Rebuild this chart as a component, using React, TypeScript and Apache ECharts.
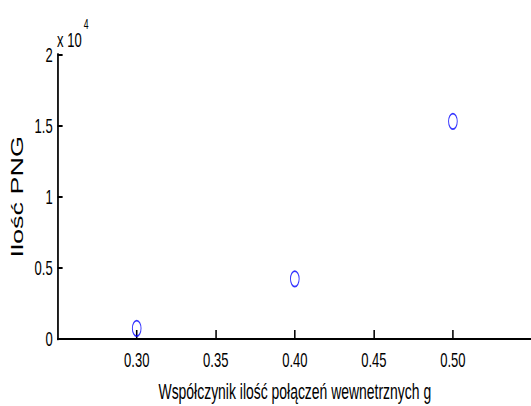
import React, { useEffect, useRef } from "react";
import * as echarts from "echarts";

const gValues = [0.3, 0.4, 0.5];
const pngCounts = [750, 4230, 15300];
const xTickValues = [0.3, 0.35, 0.4, 0.45, 0.5];
const yTickValues = [0, 5000, 10000, 15000, 20000];
const xAxisTitle = "Współczynik ilość połączeń wewnetrznych g";
const yAxisTitle = "Ilość PNG";

const SX = 0.62;
const W = 880;
const H = 406;
const FONT = '"Liberation Sans", Arial, sans-serif';
const RING = "path://M0,-1A1,1,0,1,1,0,1A1,1,0,1,1,0,-1Z";

export default function App() {
  const ref = useRef<HTMLDivElement>(null);
  useEffect(() => {
    if (!ref.current) return;
    const chart = echarts.init(ref.current, undefined, { renderer: "svg" });
    const data = gValues.map((g, i) => [g, pngCounts[i]]);
    chart.setOption({
      animation: false,
      backgroundColor: "#fff",
      grid: {
        left: 93,
        right: W - 858,
        top: 54.5,
        bottom: H - 339,
        containLabel: false,
        outerBoundsMode: "none",
      },
      graphic: [
        {
          type: "text",
          style: { text: "x 10", x: 92, y: 50, font: `21px ${FONT}`, fill: "#000", verticalAlign: "bottom" },
        },
        {
          type: "text",
          style: { text: "4", x: 135, y: 31, font: `14px ${FONT}`, fill: "#000", verticalAlign: "bottom" },
        },
      ],
      xAxis: {
        type: "value",
        min: 0.25,
        max: 0.55,
        interval: 0.05,
        name: xAxisTitle,
        nameLocation: "middle",
        nameGap: 41,
        nameTextStyle: { fontFamily: FONT, fontSize: 22.5, color: "#000" },
        axisLine: { show: true, onZero: false, lineStyle: { color: "#000", width: 2 } },
        axisTick: { show: true, inside: true, length: 9, customValues: xTickValues, lineStyle: { color: "#000", width: 2.5 } },
        axisLabel: {
          customValues: xTickValues,
          formatter: (v: number) => v.toFixed(2),
          fontFamily: FONT,
          fontSize: 21,
          color: "#000",
          margin: 10,
        },
        splitLine: { show: false },
      },
      yAxis: {
        type: "value",
        min: 0,
        max: 20000,
        interval: 5000,
        name: yAxisTitle,
        nameLocation: "middle",
        nameGap: 51,
        nameTextStyle: { fontFamily: FONT, fontSize: 27, color: "#000" },
        axisLine: { show: true, lineStyle: { color: "#000", width: 2.8 } },
        axisTick: { show: true, inside: true, length: 8, customValues: yTickValues, lineStyle: { color: "#000", width: 2 } },
        axisLabel: {
          formatter: (v: number) => String(v / 10000),
          fontFamily: FONT,
          fontSize: 21,
          color: "#000",
          margin: 8,
        },
        splitLine: { show: false },
      },
      series: [
        {
          type: "scatter",
          data,
          symbol: RING,
          symbolSize: [14, 15.5],
          itemStyle: { color: "rgba(0,0,0,0)", borderColor: "#0000ff", borderWidth: 1.6 },
        },
      ],
    });
    return () => chart.dispose();
  }, []);
  return (
    <div style={{ position: "fixed", left: 0, top: 0, width: 531, height: H, overflow: "hidden", background: "#fff" }}>
      <div
        ref={ref}
        style={{ width: W, height: H, transform: `scaleX(${SX})`, transformOrigin: "0 0" }}
      />
    </div>
  );
}
